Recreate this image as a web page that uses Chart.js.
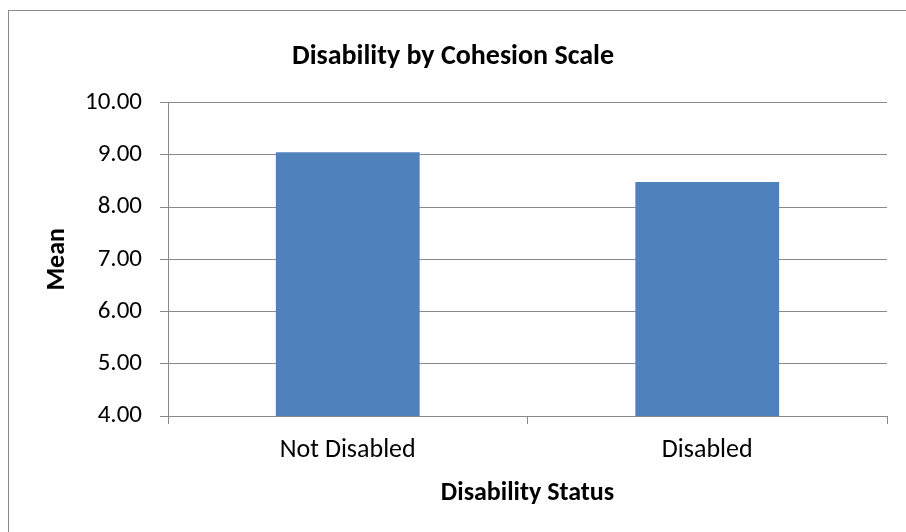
<!DOCTYPE html>
<html>
<head>
<meta charset="utf-8">
<script src="https://cdn.jsdelivr.net/npm/chart.js@4.4.1/dist/chart.umd.min.js"></script>
<style>
    html, body { margin: 0; padding: 0; background: #fff; overflow: hidden; }
    .page { position: relative; width: 906px; height: 532px; overflow: hidden; }
    .frame { position: absolute; left: 8px; top: 10px; width: 1200px; height: 800px; border-left: 1px solid #898989; border-top: 1px solid #898989; }
    .wrap { position: absolute; left: 0; top: 0; width: 906px; height: 532px; }
</style>
</head>
<body>
<div class="page">
    <div class="frame"></div>
    <div class="wrap"><canvas id="chart"></canvas></div>
</div>
<script>
    var categories = ['Not Disabled', 'Disabled'];
    var meanValues = [9.05, 8.48];
    var yTicks = { min: 4, max: 10, step: 1 };

    var fontFamily = "Carlito, Lato, 'Open Sans', sans-serif";
    var gridColor = '#898989';
    var barColor = '#4f81bd';

    Chart.defaults.font.family = fontFamily;
    Chart.defaults.color = '#000';

    new Chart(document.getElementById('chart'), {
        type: 'bar',
        data: {
            labels: categories,
            datasets: [{
                label: 'Mean',
                data: meanValues,
                backgroundColor: barColor,
                borderWidth: 0,
                categoryPercentage: 1,
                barPercentage: 0.4
            }]
        },
        options: {
            responsive: true,
            maintainAspectRatio: false,
            animation: false,
            // left/right padding kept equal so the title centres on the page
            layout: { padding: { left: 19, right: 19, top: 0, bottom: 0 } },
            plugins: {
                legend: { display: false },
                tooltip: { enabled: false },
                title: {
                    display: true,
                    text: 'Disability by Cohesion Scale',
                    font: { size: 28, weight: 'bold' },
                    color: '#000',
                    padding: { top: 40, bottom: 29 }
                }
            },
            scales: {
                x: {
                    offset: true,
                    grid: {
                        offset: true,
                        drawOnChartArea: false,
                        drawTicks: true,
                        tickLength: 8,
                        color: gridColor
                    },
                    border: { display: true, color: gridColor },
                    ticks: { font: { size: 26 }, padding: 11, color: '#000' },
                    title: {
                        display: true,
                        text: 'Disability Status',
                        font: { size: 26, weight: 'bold' },
                        color: '#000',
                        padding: { top: 0, bottom: 23 }
                    },
                    afterFit: function (scale) { scale.height = 116; }
                },
                y: {
                    min: yTicks.min,
                    max: yTicks.max,
                    grid: { color: gridColor, tickLength: 8 },
                    border: { display: true, color: gridColor },
                    ticks: {
                        stepSize: yTicks.step,
                        font: { size: 25 },
                        padding: 18,
                        color: '#000',
                        callback: function (value) { return Number(value).toFixed(2); }
                    },
                    title: {
                        display: true,
                        text: 'Mean',
                        font: { size: 26, weight: 'bold' },
                        color: '#000',
                        padding: { top: 23, bottom: 0 }
                    },
                    afterFit: function (scale) { scale.width = 149; }
                }
            }
        }
    });
</script>
</body>
</html>
